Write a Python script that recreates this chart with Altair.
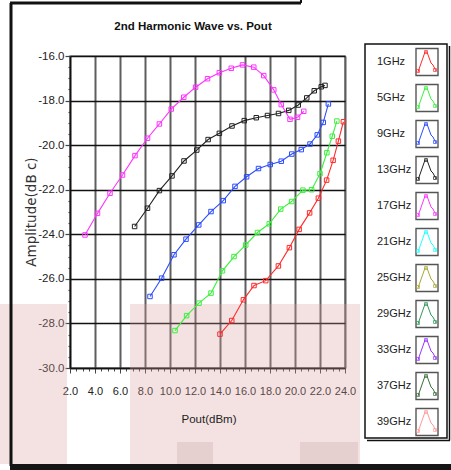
import altair as alt
import pandas as pd

# ---------------- data ----------------
series_names = ["1GHz", "5GHz", "9GHz", "13GHz", "17GHz", "21GHz",
                "25GHz", "29GHz", "33GHz", "37GHz", "39GHz"]
series_colors = ["#ff2a2a", "#3cf03c", "#2b4cff", "#222222", "#ff33ff", "#22ffff",
                 "#a8a83a", "#2f9a5a", "#9a33ff", "#3a6e3a", "#ff9a9a"]

pout_1 = [14.0, 14.94, 15.87, 16.72, 17.66, 18.67, 19.55, 20.33, 21.17, 21.87, 22.53, 23.05, 23.47, 23.87]
amp_1 = [-28.48, -27.87, -26.94, -26.3, -26.08, -25.42, -24.6, -23.78, -23.04, -22.38, -21.57, -20.68, -19.82, -18.95]

pout_5 = [10.4, 11.33, 12.32, 13.28, 14.2, 15.12, 16.06, 17.0, 17.94, 18.86, 19.73, 20.63, 21.33, 22.0, 22.55, 22.98, 23.35]
amp_5 = [-28.32, -27.65, -27.09, -26.64, -25.64, -25.0, -24.48, -23.92, -23.53, -22.87, -22.53, -22.02, -22.0, -21.28, -20.34, -19.6, -18.92]

pout_9 = [8.4, 9.33, 10.32, 11.28, 12.3, 13.28, 14.26, 15.2, 16.13, 17.08, 18.02, 18.9, 19.74, 20.5, 21.2, 21.78, 22.26, 22.67]
amp_9 = [-26.79, -25.97, -24.92, -24.22, -23.58, -22.98, -22.49, -21.85, -21.42, -21.05, -20.87, -20.72, -20.4, -20.2, -19.95, -19.54, -18.98, -18.15]

pout_13 = [7.17, 8.2, 9.15, 10.16, 11.12, 12.14, 13.05, 13.95, 14.96, 15.94, 16.9, 17.8, 18.68, 19.5, 20.26, 20.94, 21.54, 22.1, 22.4]
amp_13 = [-23.65, -22.83, -22.04, -21.38, -20.71, -20.22, -19.75, -19.47, -19.14, -18.9, -18.77, -18.67, -18.58, -18.44, -18.2, -17.88, -17.56, -17.38, -17.32]

pout_17 = [3.2, 4.2, 5.2, 6.2, 7.2, 8.2, 9.15, 10.1, 11.1, 12.05, 13.0, 13.95, 14.9, 15.8, 16.7, 17.5, 18.3, 18.9, 19.6, 20.2, 20.7]
amp_17 = [-24.03, -23.06, -22.16, -21.34, -20.47, -19.69, -19.05, -18.38, -17.85, -17.4, -17.02, -16.75, -16.55, -16.4, -16.5, -16.88, -17.52, -18.18, -18.84, -18.75, -18.48]

x_ticks = [2 + 0.5 * i for i in range(45)]
y_ticks = [-30 + 0.5 * i for i in range(29)]

rows = []
for name, xs, ys in [("1GHz", pout_1, amp_1), ("5GHz", pout_5, amp_5),
                     ("9GHz", pout_9, amp_9), ("13GHz", pout_13, amp_13),
                     ("17GHz", pout_17, amp_17)]:
    for k, (xv, yv) in enumerate(zip(xs, ys)):
        rows.append({"series": name, "pout": xv, "amp": yv, "k": k})
df = pd.DataFrame(rows)

legend_df = pd.DataFrame({"series": series_names, "idx": list(range(len(series_names)))})

icon_dx = [2, 9, 11, 15, 17, 20]
icon_dy = [10, -10, -10, 1, 3, 9]
icon_rows = []
for i, s in enumerate(series_names):
    for k, (dx, dy) in enumerate(zip(icon_dx, icon_dy)):
        icon_rows.append({"series": s, "idx": i, "k": k, "dx": dx, "dy": dy})
icon_df = pd.DataFrame(icon_rows)
mark_dx = [2, 10, 19]
mark_dy = [9, -10, 8]
mk_rows = []
for i, s in enumerate(series_names):
    for dx, dy in zip(mark_dx, mark_dy):
        mk_rows.append({"series": s, "idx": i, "dx": dx, "dy": dy})
mk_df = pd.DataFrame(mk_rows)

SANS = "Liberation Sans, Arial, sans-serif"
MAJOR = "datum.value % 2 == 0"
LABEL = "datum.value % 2 == 0 ? (datum.value < 0 ? '-' : '') + format(abs(datum.value), '.1f') : ''"

color_enc = alt.Color("series:N", scale=alt.Scale(domain=series_names, range=series_colors), legend=None)
one = pd.DataFrame({"z": [0]})

# ---------------- decorations ----------------
def rect(x1, x2, y1, y2, fill, opacity=1.0, **kw):
    return alt.Chart(one).mark_rect(fill=fill, opacity=opacity, **kw).encode(
        x=alt.value(x1), x2=alt.value(x2), y=alt.value(y1), y2=alt.value(y2))

def hrule(x1, x2, y, color="#111", w=1.0):
    return alt.Chart(one).mark_rule(color=color, strokeWidth=w).encode(
        x=alt.value(x1), x2=alt.value(x2), y=alt.value(y))

def vrule(x, y1, y2, color="#111", w=1.0):
    return alt.Chart(one).mark_rule(color=color, strokeWidth=w).encode(
        x=alt.value(x), y=alt.value(y1), y2=alt.value(y2))

def txt(s, x, y, **kw):
    return alt.Chart(one).mark_text(text=s, **kw).encode(x=alt.value(x), y=alt.value(y))

pink = [
    rect(-70, -3, 248, 408, "#d9a0a0", 0.3),
    rect(60, 290, 248, 408, "#d9a0a0", 0.3),
    rect(107, 143, 386, 408, "#b89898", 0.25),
    rect(230, 288, 386, 408, "#b89898", 0.25),
]

# ---------------- main plot ----------------
x_axis = alt.Axis(
    values=x_ticks, title=None, labelExpr=LABEL,
    labelFont=SANS, labelFontSize=11, labelColor="#222", labelPadding=12,
    labelOverlap=False, labelFlush=False,
    tickSize={"condition": {"test": MAJOR, "value": 5}, "value": 3},
    tickColor="#444", tickWidth=1,
    grid=True, gridColor="#5e5e5e", gridWidth=2,
    gridOpacity={"condition": {"test": MAJOR, "value": 1}, "value": 0},
    domainColor="#111", domainWidth=1.5)

y_axis = alt.Axis(
    values=y_ticks, title=None, labelExpr=LABEL,
    labelFont=SANS, labelFontSize=11.5, labelColor="#222", labelPadding=1,
    labelOverlap=False, labelFlush=False,
    tickSize={"condition": {"test": MAJOR, "value": 5}, "value": 2},
    tickColor="#444", tickWidth=1.2,
    grid=True, gridColor="#111", gridWidth=1.5,
    gridOpacity={"condition": {"test": MAJOR, "value": 1}, "value": 0},
    domainColor="#111", domainWidth=1.5)

main = alt.Chart(df).mark_line(
    strokeWidth=1.1,
    point=alt.OverlayMarkDef(shape="square", filled=False, size=20, strokeWidth=1)
).encode(
    x=alt.X("pout:Q", scale=alt.Scale(domain=[2, 24], nice=False, zero=False), axis=x_axis),
    y=alt.Y("amp:Q", scale=alt.Scale(domain=[-30, -16], nice=False, zero=False), axis=y_axis),
    color=color_enc,
    order="k:Q",
)

# ---------------- titles ----------------
titles = [
    txt("2nd Harmonic Wave vs. Pout", 123, -29, font=SANS, fontSize=11.5, fontWeight="bold",
        color="#111", align="center", baseline="middle"),
    txt("Pout(dBm)", 139, 364, font=SANS, fontSize=11.5, color="#222",
        align="center", baseline="middle"),
    txt("Amplitude(dB c)", -38, 156, font="DejaVu Sans", fontSize=13.5, color="#333",
        align="center", baseline="middle", angle=270),
]

# ---------------- frame ----------------
frame = [
    vrule(-59, -53, 410, "#111", 3),
    hrule(-60, 231, -53, "#111", 3),
    vrule(231, -56, -53, "#111", 2),
    rect(-60, 381, 408, 414, "#151515"),
]

# ---------------- legend ----------------
legend_box = [
    rect(295, 377, -12, 382, "white", 1.0, stroke="#111", strokeWidth=1.5),
    hrule(297, 380, 384.5, "#111", 1.5),
    vrule(379.5, -10, 384.5, "#111", 1.5),
]

legend_labels = alt.Chart(legend_df).mark_text(
    align="left", baseline="middle", font=SANS, fontSize=11, color="#222"
).transform_calculate(yy="6 + 36*datum.idx").encode(
    x=alt.value(307),
    y=alt.Y("yy:Q", scale=None, axis=None),
    text="series:N",
)

icon_boxes = alt.Chart(legend_df).mark_rect(
    fill="white", stroke="#555", strokeWidth=1.4
).transform_calculate(
    ya="6 + 36*datum.idx - 13.5", yb="6 + 36*datum.idx + 13.5"
).encode(
    x=alt.value(346), x2=alt.value(368),
    y=alt.Y("ya:Q", scale=None, axis=None), y2="yb:Q",
)

icon_lines = alt.Chart(icon_df).mark_line(strokeWidth=1).transform_calculate(
    px="346 + datum.dx", py="6 + 36*datum.idx + datum.dy"
).encode(
    x=alt.X("px:Q", scale=None, axis=None),
    y=alt.Y("py:Q", scale=None, axis=None),
    color=color_enc,
    detail="series:N",
    order="k:Q",
)

icon_marks = alt.Chart(mk_df).mark_point(shape="square", filled=False, size=9, strokeWidth=1).transform_calculate(
    px="346 + datum.dx", py="6 + 36*datum.idx + datum.dy"
).encode(
    x=alt.X("px:Q", scale=None, axis=None),
    y=alt.Y("py:Q", scale=None, axis=None),
    color=color_enc,
)

chart = alt.layer(
    *pink, main, *frame, *legend_box, legend_labels, icon_boxes, icon_lines, icon_marks, *titles
).properties(
    width=275, height=312,
    autosize=alt.AutoSizeParams(type="none"),
    padding={"left": 70, "top": 56, "right": 106, "bottom": 102},
    background="white",
).configure_view(stroke="#888", strokeWidth=1.5)

chart.save("out.html", embed_options={"renderer": "svg", "actions": False})
